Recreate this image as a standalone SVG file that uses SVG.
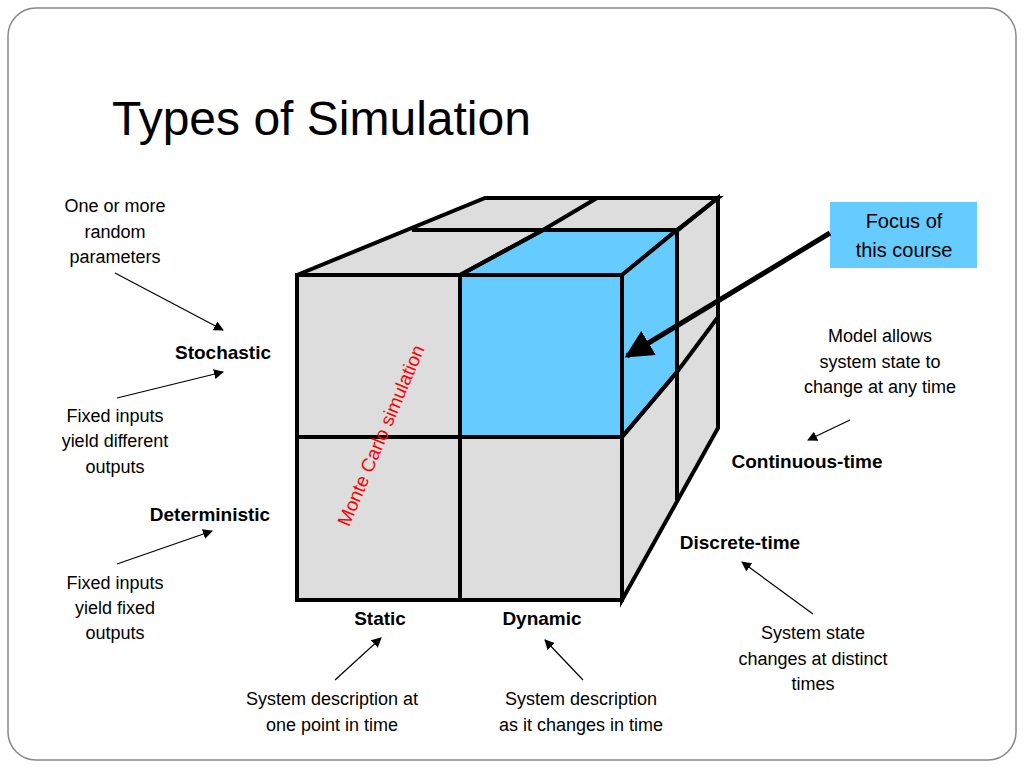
<svg xmlns="http://www.w3.org/2000/svg" width="1024" height="768" viewBox="0 0 1024 768">
<defs>
<marker id="ah" viewBox="0 0 10 10" refX="9" refY="5" markerWidth="10" markerHeight="10" markerUnits="userSpaceOnUse" orient="auto"><path d="M0,0 L10,5 L0,10 z" fill="#000"/></marker>
<marker id="big" viewBox="0 0 10 10" refX="9" refY="5" markerWidth="28" markerHeight="28" markerUnits="userSpaceOnUse" orient="auto"><path d="M0,0 L10,5 L0,10 z" fill="#000"/></marker>
</defs>
<style>
.t{font-family:"Liberation Sans",Arial,sans-serif;font-size:18px;fill:#000;text-anchor:middle}
.b{font-weight:bold;font-size:19px}
.c{stroke:#000;stroke-width:4;stroke-linejoin:miter;fill:#ddd}
.blue{fill:#66ccff}
.a{stroke:#000;stroke-width:1.2;fill:none;marker-end:url(#ah)}
</style>
<rect x="0" y="0" width="1024" height="768" fill="#fff"/>
<rect x="8" y="8" width="1008" height="752" rx="28" fill="#fff" stroke="#888" stroke-width="1.5"/>
<text x="112" y="135" style="font-family:'Liberation Sans Narrow','Liberation Sans',sans-serif;font-size:48px">Types of Simulation</text>
<g id="cube">
<polygon class="c" points="297,275 485,198 718,198 622,275"/>
<polygon class="c" points="622,275 718,198 718,428 622,600"/>
<polygon class="c blue" points="460,275 543,230 677,230 622,275"/>
<polygon class="c blue" points="622,275 677,230 677,372 622,437"/>
<rect class="c" x="297" y="275" width="163" height="162"/>
<rect class="c blue" x="460" y="275" width="162" height="162"/>
<rect class="c" x="297" y="437" width="163" height="163"/>
<rect class="c" x="460" y="437" width="162" height="163"/>
<polyline points="412,230 677,230 718,198" fill="none" stroke="#000" stroke-width="4"/>
<polyline points="460,275 543,230 597,198" fill="none" stroke="#000" stroke-width="4"/>
<polyline points="677,230 677,500" fill="none" stroke="#000" stroke-width="4"/>
<polyline points="622,437 677,372 718,317" fill="none" stroke="#000" stroke-width="4"/>
<text class="t" transform="translate(387,438) rotate(-67)" style="fill:#ff0000;font-size:19px">Monte Carlo simulation</text>
</g>
<g id="focus">
<rect x="830" y="202" width="147" height="66" fill="#66ccff"/>
<text class="t" x="904" y="228" style="font-size:20px">Focus of</text>
<text class="t" x="904" y="257" style="font-size:20px">this course</text>
</g>
<g id="labels">
<text class="t" x="115" y="212">One or more</text>
<text class="t" x="115" y="238">random</text>
<text class="t" x="115" y="263">parameters</text>
<text class="t b" x="223" y="359">Stochastic</text>
<text class="t" x="115" y="422">Fixed inputs</text>
<text class="t" x="115" y="447">yield different</text>
<text class="t" x="115" y="473">outputs</text>
<text class="t b" x="210" y="521">Deterministic</text>
<text class="t" x="115" y="589">Fixed inputs</text>
<text class="t" x="115" y="614">yield fixed</text>
<text class="t" x="115" y="639">outputs</text>
<text class="t b" x="380" y="625">Static</text>
<text class="t b" x="542" y="625">Dynamic</text>
<text class="t" x="332" y="705">System description at</text>
<text class="t" x="332" y="731">one point in time</text>
<text class="t" x="581" y="705">System description</text>
<text class="t" x="581" y="731">as it changes in time</text>
<text class="t" x="880" y="342">Model allows</text>
<text class="t" x="880" y="368">system state to</text>
<text class="t" x="880" y="393">change at any time</text>
<text class="t b" x="807" y="468">Continuous-time</text>
<text class="t b" x="740" y="549">Discrete-time</text>
<text class="t" x="813" y="639">System state</text>
<text class="t" x="813" y="665">changes at distinct</text>
<text class="t" x="813" y="690">times</text>
</g>
<g id="connectors">
<line class="a" x1="115" y1="273" x2="223" y2="330"/>
<line class="a" x1="117" y1="398" x2="223" y2="372"/>
<line class="a" x1="117" y1="564" x2="212" y2="531"/>
<line class="a" x1="335" y1="680" x2="381" y2="638"/>
<line class="a" x1="583" y1="680" x2="545" y2="640"/>
<line class="a" x1="813" y1="614" x2="742" y2="562"/>
<line class="a" x1="850" y1="420" x2="808" y2="440"/>
<line x1="830" y1="233" x2="627" y2="356" stroke="#000" stroke-width="5" marker-end="url(#big)"/>
</g>
</svg>
